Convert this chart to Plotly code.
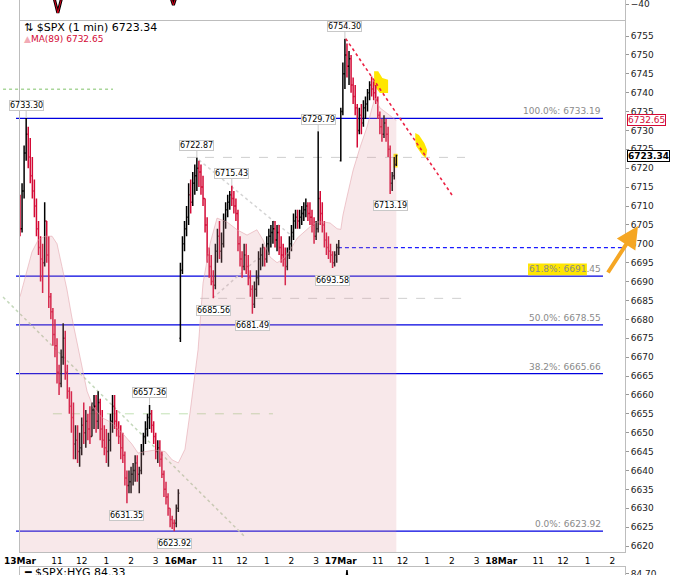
import plotly.graph_objects as go

FONT = "DejaVu Sans"

# sessions on the time axis (trading minutes counted from 09:30, 390 per day)
session_days = ["13", "16", "17", "18"]
day_labels = ["13Mar", "16Mar", "17Mar", "18Mar"]
hour_labels = ["11", "12", "1", "2", "3"]
hour_clock = ["11:00", "12:00", "13:00", "14:00", "15:00"]
bar_minutes = 5

# $SPX bars (5 min steps), first open of each session
first_open = [6710, 6675, 6722]

mar13_high = [6713, 6716, 6726, 6733.30, 6731, 6728, 6723, 6717, 6712, 6706,
              6702, 6700, 6711, 6706, 6702, 6687, 6683, 6680, 6675, 6668,
              6672, 6679, 6677, 6668, 6662, 6661, 6658, 6652, 6652, 6650,
              6654, 6658, 6656, 6655, 6657, 6658, 6660, 6660, 6661, 6659,
              6656, 6652, 6651, 6650, 6655, 6660, 6660, 6656, 6653, 6652,
              6650, 6645, 6640, 6640, 6641, 6642, 6644, 6644, 6641, 6647,
              6650, 6653, 6655, 6657.36, 6656, 6653, 6650, 6648, 6648, 6645,
              6640, 6637, 6634, 6630, 6628, 6627, 6631, 6635]
mar13_low = [6702, 6703, 6712, 6722, 6720, 6716, 6712, 6707, 6702, 6697,
             6690, 6687, 6694, 6695, 6683, 6680, 6673, 6670, 6663, 6660,
             6662, 6668, 6664, 6659, 6655, 6650, 6643, 6643, 6642, 6641,
             6644, 6647, 6646, 6648, 6647, 6649, 6651, 6650, 6651, 6648,
             6646, 6644, 6642, 6641, 6645, 6650, 6651, 6649, 6647, 6643,
             6642, 6636, 6631.35, 6634, 6634, 6636, 6637, 6637, 6634, 6639,
             6644, 6647, 6649, 6651, 6650, 6647, 6643, 6642, 6641, 6638,
             6633, 6631, 6628, 6625, 6624.5, 6623.92, 6625, 6629]
mar13_close = [6704, 6714, 6724, 6729, 6723, 6718, 6714, 6710, 6704, 6699,
               6696, 6695, 6706, 6697, 6686, 6682, 6676, 6673, 6666, 6663,
               6670, 6675, 6666, 6661, 6657, 6654, 6647, 6648, 6645, 6646,
               6652, 6650, 6653, 6651, 6649, 6656, 6657, 6653, 6658, 6651,
               6648, 6646, 6645, 6648, 6653, 6657, 6653, 6651, 6649, 6646,
               6644, 6638, 6636, 6637, 6639, 6640, 6642, 6639, 6640, 6645,
               6649, 6651, 6654, 6655, 6652, 6649, 6645, 6646, 6643, 6639,
               6635, 6633, 6630, 6627, 6626, 6626, 6630, 6634]

mar16_high = [6695, 6702, 6706, 6710, 6716, 6717, 6719, 6721, 6722.87, 6722,
              6721, 6718, 6712, 6707, 6699, 6697, 6693, 6700, 6704, 6706,
              6703, 6708, 6711, 6713, 6714, 6715.43, 6714, 6712, 6709, 6702,
              6698, 6700, 6700, 6697, 6693, 6689, 6690, 6693, 6698, 6699,
              6700, 6699, 6702, 6704, 6705, 6706, 6706, 6705, 6705, 6702,
              6700, 6699, 6699, 6702, 6705, 6708, 6709, 6709, 6709, 6710,
              6711, 6712, 6711, 6711, 6709, 6707, 6706, 6729.79, 6714, 6711,
              6706, 6703, 6702, 6700, 6698, 6698, 6700, 6701]
mar16_low = [6674, 6692, 6698, 6702, 6705, 6708, 6710, 6713, 6714, 6715,
             6713, 6710, 6703, 6695, 6691, 6689, 6685.56, 6688, 6695, 6696,
             6695, 6699, 6704, 6707, 6709, 6710, 6708, 6706, 6698, 6694,
             6691, 6693, 6692, 6689, 6686, 6681.49, 6683, 6686, 6689, 6693,
             6694, 6694, 6695, 6697, 6699, 6700, 6699, 6698, 6697, 6695,
             6694, 6689, 6693, 6696, 6698, 6701, 6704, 6704, 6704, 6705,
             6706, 6707, 6706, 6705, 6703, 6700, 6701, 6703, 6705, 6703,
             6699, 6697, 6696, 6695, 6693.58, 6694, 6695, 6697]
mar16_close = [6693, 6700, 6704, 6707, 6713, 6711, 6716, 6718, 6720, 6719,
               6715, 6712, 6705, 6697, 6694, 6690, 6689, 6698, 6702, 6698,
               6700, 6706, 6709, 6711, 6713, 6712, 6710, 6708, 6700, 6696,
               6694, 6697, 6694, 6691, 6688, 6684, 6688, 6691, 6696, 6697,
               6699, 6696, 6700, 6702, 6703, 6704, 6701, 6703, 6699, 6697,
               6696, 6694, 6697, 6700, 6703, 6706, 6707, 6706, 6707, 6708,
               6709, 6710, 6708, 6707, 6705, 6702, 6704, 6712, 6708, 6705,
               6701, 6699, 6698, 6697, 6695, 6697, 6699, 6699]

mar17_high = [6736, 6748, 6754.30, 6753, 6751, 6750, 6744, 6742, 6737, 6736,
              6737, 6738, 6739, 6741, 6743, 6744.3, 6743, 6742, 6739, 6735,
              6733, 6734, 6733, 6731, 6726, 6719, 6723, 6723.6]
mar17_low = [6721.8, 6734, 6741, 6744, 6742, 6740, 6737, 6734, 6725.5, 6729,
             6729, 6731, 6733, 6735, 6738, 6739, 6738, 6737, 6733, 6729,
             6727, 6728, 6727, 6723, 6713.19, 6714, 6717, 6720.6]
mar17_close = [6735, 6745, 6750, 6747, 6749, 6742, 6739, 6736, 6730, 6734,
               6732, 6736, 6737, 6740, 6742, 6741, 6740, 6738, 6734, 6731,
               6729, 6732, 6729, 6725, 6716, 6718, 6721, 6723.34]

# MA(89)
ma_time = ["13 09:30", "13 09:42", "13 09:59", "13 10:14", "13 10:31", "13 10:48",
           "13 11:00", "13 11:12", "13 11:24", "13 11:36", "13 11:49", "13 12:01",
           "13 12:13", "13 12:28", "13 12:49", "13 13:14", "13 13:38", "13 14:02",
           "13 14:17", "13 14:34", "13 14:58", "13 15:23", "13 15:40", "13 15:55",
           "16 09:41", "16 09:53", "16 10:13", "16 10:25", "16 10:42", "16 10:59",
           "16 11:23", "16 11:48", "16 12:12", "16 12:36", "16 12:51", "16 13:08",
           "16 13:25", "16 13:40", "16 13:57", "16 14:14", "16 14:28", "16 14:45",
           "16 15:02", "16 15:17", "16 15:34", "16 15:51", "17 09:30", "17 09:35",
           "17 09:45", "17 10:00", "17 10:17", "17 10:34", "17 10:46", "17 10:53",
           "17 11:05", "17 11:22", "17 11:45"]
ma_value = [6686, 6691, 6697.8, 6701, 6702, 6702,
            6700, 6694, 6688, 6680.6, 6673.7, 6666.6,
            6661, 6656.8, 6654, 6652.6, 6650, 6647,
            6644.6, 6645, 6645.4, 6645, 6642.8, 6642,
            6645.6, 6655, 6672, 6689.6, 6700, 6706.8,
            6705.8, 6703.7, 6702.3, 6703.7, 6701, 6696.5,
            6695, 6696, 6698.4, 6701.5, 6702.8, 6704.5,
            6705.8, 6705.8, 6705.5, 6704, 6703.8, 6707.5,
            6712.4, 6719.5, 6725.6, 6731, 6736, 6738.6,
            6736, 6734.6, 6732.65]

last_price = 6723.34
last_ma = 6732.65
prev_close = 6699

# fibonacci retracement 6623.92 -> 6733.19
fib_pct = ["100.0%", "61.8%", "50.0%", "38.2%", "0.0%"]
fib_value = [6733.19, 6691.45, 6678.55, 6665.66, 6623.92]

# price callouts
callout_high = [6733.30, 6657.36, 6722.87, 6715.43, 6729.79, 6754.30]
callout_low = [6631.35, 6623.92, 6685.56, 6681.49, 6693.58, 6713.19]

# indicator panel above (only its bottom edge is visible) and ratio panel below
indicator_time = ["13 10:52", "13 11:02", "13 11:12", None, "13 15:33", "13 15:43", "13 15:53"]
indicator_value = [-32, -49, -32, None, -27.7, -40.7, -27.7]
ratio_time = ["17 09:40", "17 09:45", "17 09:50"]
ratio_value = [84.55, 84.727, 84.55]
ratio_last = 84.33
ratio_tick = 84.70


def tmin(stamp):
    if stamp is None:
        return None
    day, clock = stamp.split()
    hh, mm = clock.split(":")
    return session_days.index(day) * 390 + int(hh) * 60 + int(mm) - 570


# build bar table
highs = [mar13_high, mar16_high, mar17_high]
lows = [mar13_low, mar16_low, mar17_low]
closes = [mar13_close, mar16_close, mar17_close]
bx, bo, bh, bl, bc = [], [], [], [], []
for k in range(3):
    prev = first_open[k]
    for i in range(len(highs[k])):
        bx.append(k * 390 + i * bar_minutes)
        bo.append(prev)
        bh.append(highs[k][i])
        bl.append(lows[k][i])
        bc.append(closes[k][i])
        prev = closes[k][i]

tickvals, ticktext = [], []
for k, lab in enumerate(day_labels):
    tickvals.append(k * 390)
    ticktext.append("<b>%s</b>" % lab)
    for hl, hc in zip(hour_labels, hour_clock):
        tickvals.append(tmin(session_days[k] + " " + hc))
        ticktext.append(hl)

X_RANGE = [0, 1471]
Y_RANGE = [6618.42, 6759.05]
RED = "#d40a36"
BLUE = "#0000e0"

fig = go.Figure()

fig.add_trace(go.Scatter(x=[tmin(t) for t in ma_time], y=ma_value, mode="lines",
                         fill="tozeroy", fillcolor="rgba(225,150,160,0.22)",
                         line=dict(color="rgba(225,160,170,0.55)", width=1),
                         hoverinfo="skip", showlegend=False))

fig.add_trace(go.Ohlc(x=bx, open=bo, high=bh, low=bl, close=bc,
                      increasing_line_color="black", decreasing_line_color=RED,
                      line_width=1.5, tickwidth=0.5, showlegend=False))

fig.add_trace(go.Scatter(x=[tmin(t) for t in indicator_time], y=indicator_value,
                         mode="lines", line=dict(color="black", width=3),
                         xaxis="x2", yaxis="y2", showlegend=False))
fig.add_trace(go.Scatter(x=[tmin(t) for t in indicator_time], y=indicator_value,
                         mode="lines", line=dict(color="#e0001b", width=1),
                         xaxis="x2", yaxis="y2", showlegend=False))
fig.add_trace(go.Scatter(x=[tmin(t) for t in ratio_time], y=ratio_value,
                         mode="lines", line=dict(color="black", width=1.5),
                         xaxis="x3", yaxis="y3", showlegend=False))

shapes = []
# fib levels
for v in fib_value:
    shapes.append(dict(type="line", xref="paper", yref="y", x0=-0.0066, x1=0.9636,
                       y0=v, y1=v, line=dict(color=BLUE, width=1.3), layer="below"))
# highlighter on the 61.8% label
shapes.append(dict(type="rect", xref="paper", yref="y", x0=0.8397, x1=0.937,
                   y0=6691.7, y1=6694.8, fillcolor="#ffe600", line_width=0, layer="below"))

# helper lines
shapes.append(dict(type="line", xref="x", yref="y", x0=tmin("16 09:46"), x1=tmin("17 14:32"),
                   y0=6722.87, y1=6722.87, line=dict(color="#cfcfcf", width=1, dash="dash"),
                   layer="below"))
shapes.append(dict(type="line", xref="x", yref="y", x0=tmin("16 10:18"), x1=tmin("17 14:37"),
                   y0=6685.56, y1=6685.56, line=dict(color="#cfcfcf", width=1, dash="dash"),
                   layer="below"))
shapes.append(dict(type="line", xref="x", yref="y", x0=tmin("16 15:53"), x1=tmin("18 14:27"),
                   y0=prev_close, y1=prev_close,
                   line=dict(color="#1a1aff", width=1.2, dash="4px,3px"), layer="below"))
shapes.append(dict(type="line", xref="paper", yref="y", x0=-0.028, x1=0.1537,
                   y0=6740.9, y1=6740.9, line=dict(color="#a9d69a", width=1.5, dash="dot"),
                   layer="below"))
shapes.append(dict(type="line", xref="x", yref="y", x0=tmin("13 10:50"), x1=tmin("16 13:15"),
                   y0=6655, y1=6655, line=dict(color="#c2e2b4", width=1, dash="dash"),
                   layer="below"))
shapes.append(dict(type="line", xref="paper", yref="y", x0=-0.028, x1=0.372,
                   y0=6685.9, y1=6622.4, line=dict(color="#c4d8bb", width=1.5, dash="dot"),
                   layer="below"))
shapes.append(dict(type="line", xref="x", yref="y", x0=tmin("16 10:15"), x1=tmin("16 14:04"),
                   y0=6722.2, y1=6701.8, line=dict(color="#d4d4d4", width=1.5, dash="dot"),
                   layer="below"))
shapes.append(dict(type="line", xref="x", yref="y", x0=tmin("16 10:49"), x1=tmin("16 12:39"),
                   y0=6685.65, y1=6696.2, line=dict(color="#d4d4d4", width=1.5, dash="dot"),
                   layer="below"))


def blob(points):
    pts = ["%s%.1f,%.2f" % ("M" if i == 0 else "L", tmin(t), v) for i, (t, v) in enumerate(points)]
    return " ".join(pts) + " Z"


hl_top = [("17 10:51", 6745.7), ("17 11:01", 6745.7), ("17 11:11", 6743.9), ("17 11:25", 6743.4),
          ("17 11:25", 6739.9), ("17 11:05", 6739.9), ("17 10:51", 6741.9)]
hl_trend = [("17 12:31", 6729.3), ("17 12:40", 6728.8), ("17 12:53", 6726.7), ("17 13:00", 6724.8),
            ("17 12:57", 6722.7), ("17 12:48", 6723.5), ("17 12:33", 6725.9), ("17 12:31", 6727.5)]
shapes.append(dict(type="path", xref="x", yref="y", path=blob(hl_top),
                   fillcolor="#ffe600", line_width=0, layer="below"))
shapes.append(dict(type="path", xref="x", yref="y", path=blob(hl_trend),
                   fillcolor="#ffe600", line_width=0, layer="below"))
shapes.append(dict(type="rect", xref="x", yref="y", x0=tmin("17 11:38"), x1=tmin("17 11:48"),
                   y0=6720.2, y1=6723.8, fillcolor="#ffe600", line_width=0, layer="below"))
# falling trendline from the high
shapes.append(dict(type="line", xref="x", yref="y", x0=tmin("17 09:42"), x1=tmin("17 14:03"),
                   y0=6754.30, y1=6712.5, line=dict(color="#ec2244", width=1.6, dash="dot"),
                   layer="above"))

annotations = []
for v in callout_high:
    annotations.append(dict(x=bx[bh.index(v)], y=v, xref="x", yref="y", text="%.2f" % v,
                            showarrow=True, arrowhead=0, arrowwidth=1, arrowcolor="#c8c8c8",
                            ax=0, ay=-12, bgcolor="white", bordercolor="#c8c8c8",
                            borderwidth=1, borderpad=0,
                            font=dict(family=FONT, size=8, color="black")))
for v in callout_low:
    annotations.append(dict(x=bx[bl.index(v)], y=v, xref="x", yref="y", text="%.2f" % v,
                            showarrow=True, arrowhead=0, arrowwidth=1, arrowcolor="#c8c8c8",
                            ax=0, ay=12, bgcolor="white", bordercolor="#c8c8c8",
                            borderwidth=1, borderpad=0,
                            font=dict(family=FONT, size=8, color="black")))

for p, v in zip(fib_pct, fib_value):
    annotations.append(dict(x=0.9636, y=v, xref="paper", yref="y", xanchor="right",
                            yanchor="bottom", showarrow=False, text="%s: %.2f" % (p, v),
                            font=dict(family=FONT, size=9, color="#8a8a8a")))

annotations.append(dict(x=1.0, xshift=2, y=last_ma, xref="paper", yref="y", xanchor="left",
                        showarrow=False, text="%.2f" % last_ma, bgcolor="white",
                        bordercolor=RED, borderwidth=1, borderpad=0,
                        font=dict(family=FONT, size=9, color=RED)))
annotations.append(dict(x=1.0, xshift=2, y=last_price, xref="paper", yref="y", xanchor="left",
                        showarrow=False, text="<b>%.2f</b>" % last_price, bgcolor="white",
                        bordercolor="black", borderwidth=1, borderpad=0,
                        font=dict(family=FONT, size=9, color="black")))

annotations.append(dict(x=0.0033, y=1 - 27 / 575, xref="paper", yref="paper",
                        xanchor="left", yanchor="middle", showarrow=False,
                        text="⇅ $SPX (1 min) %.2f" % last_price,
                        font=dict(family=FONT, size=11, color="black")))
annotations.append(dict(x=0.0033, y=1 - 39 / 575, xref="paper", yref="paper",
                        xanchor="left", yanchor="middle", showarrow=False,
                        text="<span style='color:#f2aab5'>▲</span>MA(89) %.2f" % last_ma,
                        font=dict(family=FONT, size=9, color=RED)))
annotations.append(dict(x=0.0033, y=3 / 575, xref="paper", yref="paper",
                        xanchor="left", yanchor="middle", showarrow=False,
                        text="━ $SPX:HYG %.2f" % ratio_last,
                        font=dict(family=FONT, size=11, color="black")))

# hand-drawn arrow pointing at the axis
annotations.append(dict(x=1.0215, y=6704.7, xref="paper", yref="y", text="",
                        showarrow=True, arrowhead=2, arrowsize=1.1, arrowwidth=4,
                        arrowcolor="#f5a623", ax=-31, ay=48))

frame = "#bdbdbd"
fig.update_layout(
    width=691, height=575, autosize=False,
    margin=dict(l=20, r=66, t=0, b=0),
    paper_bgcolor="white", plot_bgcolor="white",
    showlegend=False,
    font=dict(family=FONT, size=9, color="#222"),
    xaxis=dict(range=X_RANGE, anchor="y", tickvals=tickvals, ticktext=ticktext,
               ticks="", showgrid=False, zeroline=False, showline=True, mirror=True,
               linecolor=frame, rangeslider=dict(visible=False), automargin=False,
               tickfont=dict(family=FONT, size=9, color="black")),
    yaxis=dict(domain=[23 / 575, 1 - 20.7 / 575], range=Y_RANGE, side="right",
               tickvals=list(range(6620, 6760, 5)), ticks="outside", ticklen=3,
               tickcolor="#999", showgrid=False, zeroline=False, showline=True,
               mirror=True, linecolor=frame, automargin=False,
               tickfont=dict(family=FONT, size=9, color="#222")),
    xaxis2=dict(matches="x", anchor="y2", visible=False, range=X_RANGE, automargin=False),
    yaxis2=dict(domain=[1 - 20.7 / 575, 1], range=[-57, -35.5], side="right",
                tickvals=[-40], ticks="outside", ticklen=3, tickcolor="#999",
                ticklabeloverflow="allow", automargin=False,
                showgrid=False, zeroline=False, showline=True, mirror=True,
                linecolor=frame, tickfont=dict(family=FONT, size=9, color="#222")),
    xaxis3=dict(matches="x", anchor="y3", side="top", range=X_RANGE, showline=True,
                linecolor=frame, showticklabels=False, ticks="", showgrid=False,
                zeroline=False, automargin=False),
    yaxis3=dict(domain=[0, 8 / 575], range=[84.69, 84.75], side="right",
                tickvals=[ratio_tick], ticktext=["%.2f" % ratio_tick],
                ticks="outside", ticklen=3, tickcolor="#999",
                ticklabeloverflow="allow", automargin=False,
                showgrid=False, zeroline=False, showline=True, mirror=True,
                linecolor=frame, tickfont=dict(family=FONT, size=9, color="#222")),
    shapes=shapes,
    annotations=annotations,
)

# the page's default body margin would push the 691x575 figure off by 8px
fig.write_html("out.html", config={"displayModeBar": False},
               post_script="document.body.style.margin='0';")
